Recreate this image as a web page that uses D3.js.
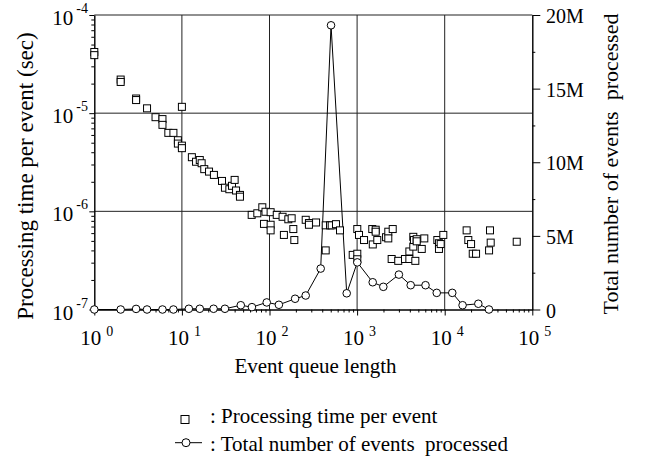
<!DOCTYPE html>
<html>
<head>
<meta charset="utf-8">
<script src="https://cdn.jsdelivr.net/npm/d3@7"></script>
<style>
  body { margin: 0; background: #fff; }
</style>
</head>
<body>
<div id="container"></div>
<script>
// processing time per event (squares, left log axis)
const sqX = [1, 1, 2, 2, 3, 3, 4, 5, 6, 6, 7, 8, 9, 9, 10, 10, 10,
  13, 14.5, 16, 16.8, 18, 20.4, 23.2, 28.7, 31, 34.8, 37.3, 40, 41.5, 46, 46,
  62.6, 72.6, 82.8, 86.5, 90, 103, 103, 103, 121, 141, 146, 164, 179, 187, 192,
  259, 282, 282, 340, 438, 438, 491, 513, 574, 638, 891,
  1005, 1005, 1005, 1051, 1200, 1490, 1510, 1630, 1630, 1700, 2140, 2270, 2270, 2480, 2550,
  2950, 3520, 3950, 3950, 4380, 4380, 4460, 4620, 4790, 4790, 5470, 5850,
  8240, 8600, 8600, 9000, 9640, 17800, 18600, 20000, 20900, 22800, 32100, 32900, 33500, 66400];
const sqY = [4.2e-5, 3.9e-5, 2.2e-5, 2.08e-5, 1.41e-5, 1.36e-5, 1.12e-5, 9.1e-6, 8.7e-6, 7.6e-6, 6.3e-6, 6.3e-6, 5.3e-6, 4.9e-6, 1.16e-5, 4.67e-6, 4.4e-6,
  3.56e-6, 3.2e-6, 3.33e-6, 3.09e-6, 2.69e-6, 2.54e-6, 2.35e-6, 2.04e-6, 1.74e-6, 1.68e-6, 1.82e-6, 2.09e-6, 1.63e-6, 1.47e-6, 1.41e-6,
  9.2e-7, 9.55e-7, 1.1e-6, 7.45e-7, 9.9e-7, 9.8e-7, 7.3e-7, 6.4e-7, 9.2e-7, 8.8e-7, 5.75e-7, 8.3e-7, 8.5e-7, 6.6e-7, 5.1e-7,
  8.2e-7, 7.6e-7, 7.3e-7, 7.7e-7, 7.2e-7, 4.0e-7, 7.2e-7, 7.2e-7, 7.4e-7, 6.4e-7, 3.6e-7,
  6.6e-7, 3.7e-7, 3.25e-7, 5.75e-7, 5.1e-7, 6.6e-7, 4.6e-7, 6.5e-7, 6.2e-7, 5.1e-7, 5.45e-7, 6.2e-7, 5.3e-7, 3.27e-7, 6.6e-7,
  3.13e-7, 3.27e-7, 3.27e-7, 3.9e-7, 5.5e-7, 4.37e-7, 5.1e-7, 3.13e-7, 5.2e-7, 4.95e-7, 4.14e-7, 5.3e-7,
  5.1e-7, 4.73e-7, 4.14e-7, 4.64e-7, 5.75e-7, 6.4e-7, 5.1e-7, 4.64e-7, 3.7e-7, 3.7e-7, 4.0e-7, 6.4e-7, 4.8e-7, 4.9e-7];

// total number of events processed, in millions (circles, right axis)
const circX = [1, 2, 3, 4, 6, 8, 12, 16, 23, 31, 47, 63, 93, 128, 196, 259, 384, 504, 761, 1005,
  1507, 1992, 3000, 4090, 6040, 8110, 12200, 16000, 24200, 32000];
const circY = [0, 0, 0.04, 0, 0, 0, 0.05, 0.05, 0.05, 0.05, 0.29, 0.16, 0.48, 0.32, 0.73, 0.95, 2.78, 19.3, 1.1, 3.2,
  1.85, 1.54, 2.37, 1.65, 1.65, 1.13, 1.13, 0.29, 0.39, 0];

const xTickExp = [0, 1, 2, 3, 4, 5];
const yTickExp = [-7, -6, -5, -4];
const y2Ticks = [0, 5, 10, 15, 20];
const y2Labels = ["0", "5M", "10M", "15M", "20M"];
const y2Minor = [2.5, 7.5, 12.5, 17.5];

const width = 647, height = 457;
const plotLeft = 94.3, plotRight = 532.3, plotTop = 15, plotBottom = 309.5;
const serif = "'Liberation Serif', 'Times New Roman', Times, 'DejaVu Serif', serif";

const x = d3.scaleLog().domain([1, 1e5]).range([plotLeft, plotRight]);
const y = d3.scaleLog().domain([1e-7, 1e-4]).range([plotBottom, plotTop]);
const y2 = d3.scaleLinear().domain([0, 20]).range([plotBottom, plotTop]);

const svg = d3.select('#container').append('svg')
  .attr('width', width).attr('height', height)
  .attr('font-family', serif)
  .style('font-family', serif);

// minor tick values for log axes
const xMinor = [], yMinor = [];
xTickExp.slice(0, -1).forEach(e => { for (let k = 2; k < 10; k++) xMinor.push(k * Math.pow(10, e)); });
yTickExp.slice(0, -1).forEach(e => { for (let k = 2; k < 10; k++) yMinor.push(k * Math.pow(10, e)); });

// grid
svg.append('g').selectAll('line')
  .data(xTickExp.slice(1, -1)).enter().append('line')
  .attr('x1', e => x(Math.pow(10, e))).attr('x2', e => x(Math.pow(10, e)))
  .attr('y1', plotTop).attr('y2', plotBottom)
  .attr('stroke', '#222').attr('stroke-width', 1);
svg.append('g').selectAll('line')
  .data(yTickExp.slice(1, -1)).enter().append('line')
  .attr('x1', plotLeft).attr('x2', plotRight)
  .attr('y1', e => y(Math.pow(10, e))).attr('y2', e => y(Math.pow(10, e)))
  .attr('stroke', '#222').attr('stroke-width', 1);

// top frame line
svg.append('line')
  .attr('x1', plotLeft).attr('x2', plotRight).attr('y1', plotTop).attr('y2', plotTop)
  .attr('stroke', '#222').attr('stroke-width', 1.2);

// axes (ticks only, labels drawn below)
const noLabel = () => '';
svg.append('g').attr('transform', `translate(0,${plotBottom})`)
  .call(d3.axisBottom(x).tickValues(xTickExp.map(e => Math.pow(10, e))).tickSize(6).tickSizeOuter(0).tickFormat(noLabel));
svg.append('g').attr('transform', `translate(0,${plotBottom})`)
  .call(d3.axisBottom(x).tickValues(xMinor).tickSize(3).tickSizeOuter(0).tickFormat(noLabel));
svg.append('g').attr('transform', `translate(${plotLeft},0)`)
  .call(d3.axisLeft(y).tickValues(yTickExp.map(e => Math.pow(10, e))).tickSize(5).tickSizeOuter(0).tickFormat(noLabel));
svg.append('g').attr('transform', `translate(${plotLeft},0)`)
  .call(d3.axisLeft(y).tickValues(yMinor).tickSize(3).tickSizeOuter(0).tickFormat(noLabel));
svg.append('g').attr('transform', `translate(${plotRight},0)`)
  .call(d3.axisRight(y2).tickValues(y2Ticks).tickSize(8).tickSizeOuter(0).tickFormat(noLabel));
svg.append('g').attr('transform', `translate(${plotRight},0)`)
  .call(d3.axisRight(y2).tickValues(y2Minor).tickSize(3).tickSizeOuter(0).tickFormat(noLabel));
svg.selectAll('.domain, .tick line').attr('stroke', '#000');

// all text in serif
const txt = (sel) => sel.append('text').style('font-family', serif).attr('fill', '#000');

// x tick labels: 10 with superscript
const xl = svg.append('g').selectAll('text').data(xTickExp).enter().append('text')
  .style('font-family', serif)
  .attr('x', e => x(Math.pow(10, e)) - 14).attr('y', 345)
  .style('font-size', '21px');
xl.append('tspan').text('10');
xl.append('tspan').attr('dx', 5).attr('dy', -9).style('font-size', '14px').text(e => e);

// left tick labels
const yl = svg.append('g').selectAll('text').data(yTickExp).enter().append('text')
  .style('font-family', serif)
  .attr('x', 88).attr('y', e => y(Math.pow(10, e)) + 10)
  .attr('text-anchor', 'end')
  .style('font-size', '21px');
yl.append('tspan').text('10');
yl.append('tspan').attr('dx', 3).attr('dy', -12).style('font-size', '14px').text(e => e);

// right tick labels
svg.append('g').selectAll('text').data(y2Ticks).enter().append('text')
  .style('font-family', serif)
  .attr('x', 546).attr('y', d => y2(d) + 8)
  .style('font-size', '20px')
  .text((d, i) => y2Labels[i]);

// axis titles
txt(svg)
  .attr('x', 315.5).attr('y', 373).attr('text-anchor', 'middle')
  .style('font-size', '21px').text('Event queue length');
txt(svg)
  .attr('transform', 'translate(33,176) rotate(-90)').attr('text-anchor', 'middle')
  .style('font-size', '23px').text('Processing time per event (sec)');
txt(svg)
  .attr('transform', 'translate(618,164) rotate(-90)').attr('text-anchor', 'middle')
  .style('white-space', 'pre')
  .style('font-size', '22px').text('Total number of events  processed');

// events line + circles
const line = d3.line().x(d => x(d[0])).y(d => y2(d[1]));
const circData = circX.map((v, i) => [v, circY[i]]);
svg.append('path').datum(circData)
  .attr('d', line).attr('fill', 'none').attr('stroke', '#000').attr('stroke-width', 1);

// squares
const sq = 7;
svg.append('g').selectAll('rect')
  .data(sqX.map((v, i) => [v, sqY[i]])).enter().append('rect')
  .attr('x', d => x(d[0]) - sq / 2).attr('y', d => y(d[1]) - sq / 2)
  .attr('width', sq).attr('height', sq)
  .attr('fill', '#fff').attr('stroke', '#000').attr('stroke-width', 1);

svg.append('g').selectAll('circle')
  .data(circData).enter().append('circle')
  .attr('cx', d => x(d[0])).attr('cy', d => y2(d[1])).attr('r', 3.8)
  .attr('fill', '#fff').attr('stroke', '#000').attr('stroke-width', 1);

// legend
svg.append('rect').attr('x', 181).attr('y', 415.5).attr('width', 8).attr('height', 8)
  .attr('fill', '#fff').attr('stroke', '#000');
txt(svg).attr('x', 210).attr('y', 423).style('font-size', '21px')
  .text(': Processing time per event');
svg.append('line').attr('x1', 175).attr('x2', 202).attr('y1', 442.7).attr('y2', 442.7)
  .attr('stroke', '#000');
svg.append('circle').attr('cx', 186).attr('cy', 442.7).attr('r', 4)
  .attr('fill', '#fff').attr('stroke', '#000');
txt(svg).attr('x', 210).attr('y', 450.5).style('font-size', '21px')
  .style('white-space', 'pre')
  .text(': Total number of events  processed');
</script>
</body>
</html>
